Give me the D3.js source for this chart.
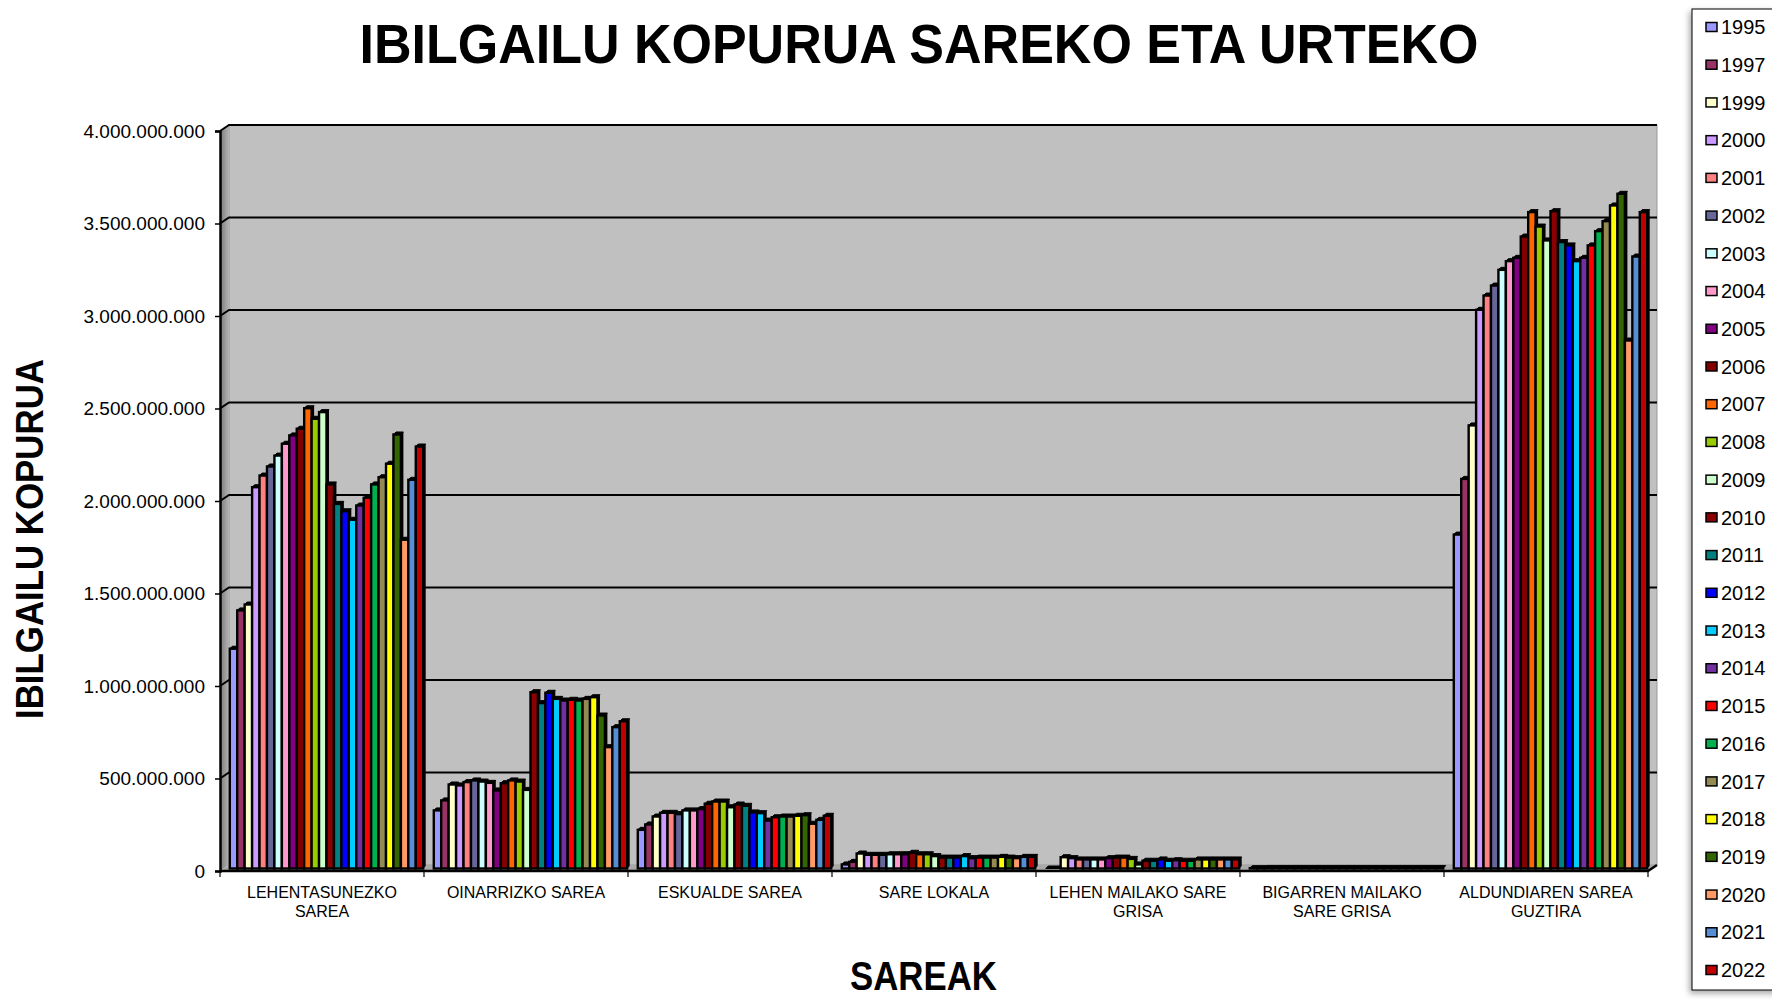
<!DOCTYPE html>
<html>
<head>
<meta charset="utf-8">
<script src="https://cdn.jsdelivr.net/npm/d3@7"></script>
<style>
  body { margin: 0; background: #ffffff; }
  svg { display: block; font-family: "Liberation Sans", Arial, sans-serif; }
</style>
</head>
<body>
<svg id="chart" width="1772" height="1001"></svg>
<script>
// Road network categories (x axis)
const categories = [
  "LEHENTASUNEZKO SAREA",
  "OINARRIZKO SAREA",
  "ESKUALDE SAREA",
  "SARE LOKALA",
  "LEHEN MAILAKO SARE GRISA",
  "BIGARREN MAILAKO SARE GRISA",
  "ALDUNDIAREN SAREA GUZTIRA"
];

// Series: one per year
const years = ["1995","1997","1999","2000","2001","2002","2003","2004","2005","2006",
  "2007","2008","2009","2010","2011","2012","2013","2014","2015","2016",
  "2017","2018","2019","2020","2021","2022"];

const yearColors = ["#9999FF","#993366","#FFFFCC","#CC99FF","#FF8080","#666699","#CCFFFF",
  "#FF99CC","#800080","#800000","#FF6600","#99CC00","#CCFFCC","#8B0000","#008080",
  "#0000FF","#00CCFF","#7030A0","#FF0000","#00B050","#948A54","#FFFF00","#336600",
  "#FF9966","#558ED5","#C00000"];

// Vehicle counts per network, in millions, ordered by year
const lehentasunezkoSarea = [1188,1395,1427,2061,2124,2173,2232,2296,2341,2377,2488,2431,2467,
  2076,1971,1931,1885,1962,2004,2076,2115,2188,2346,1777,2101,2281];
const oinarrizkoSarea = [314,368,454,449,467,476,470,463,422,461,476,470,425,
  953,894,950,917,908,912,908,917,926,827,656,764,796];
const eskualdeSarea = [209,238,281,301,301,294,314,314,321,350,362,362,331,
  346,339,303,299,259,277,281,281,285,288,242,263,285];
const sareLokala = [22,36,81,74,74,74,77,77,77,85,77,77,67,
  59,59,59,67,56,59,59,59,63,59,56,63,63];
const lehenMailakoGrisa = [0,0,61,56,49,49,49,49,56,59,59,52,22,
  42,42,49,42,45,42,42,49,49,49,49,49,49];
const bigarrenMailakoGrisa = [2,2,3,3,3,3,3,3,3,3,3,3,3,
  3,3,3,3,3,3,3,3,3,3,3,3,3];
const aldundiarenGuztira = [1805,2106,2395,3020,3097,3151,3236,3283,3301,3416,3548,3470,3395,
  3553,3386,3368,3283,3301,3368,3445,3499,3584,3647,2854,3308,3548];

const yTicks = [0,500,1000,1500,2000,2500,3000,3500,4000];

const seriesByCategory = [lehentasunezkoSarea, oinarrizkoSarea, eskualdeSarea, sareLokala,
  lehenMailakoGrisa, bigarrenMailakoGrisa, aldundiarenGuztira];

const rows = [];
categories.forEach((c, ci) => {
  years.forEach((y, yi) => rows.push({ cat: c, year: y, value: seriesByCategory[ci][yi], color: yearColors[yi] }));
});

const svg = d3.select("#chart");

// geometry of the 3D box
const frontLeft = 220, frontRight = 1648, depthX = 9, depthY = -6;
const yFront = d3.scaleLinear().domain([0, 4000]).range([871, 131]);
const yBack = d3.scaleLinear().domain([0, 4000]).range([871 + depthY, 131 + depthY]);
const yBar = d3.scaleLinear().domain([0, 4000]).range([868.5, 128.5]);

const x0 = d3.scaleBand().domain(categories).range([frontLeft, frontRight]).paddingInner(0).paddingOuter(0);
const x1 = d3.scaleBand().domain(years).range([0, x0.bandwidth()]).paddingInner(0).paddingOuter(0.71);

const defs = svg.append("defs");
const wallGrad = defs.append("linearGradient").attr("id", "wallGrad").attr("x1", 0).attr("x2", 1).attr("y1", 0).attr("y2", 0);
wallGrad.append("stop").attr("offset", "0%").attr("stop-color", "#7a7a7a");
wallGrad.append("stop").attr("offset", "100%").attr("stop-color", "#b4b4b4");
const shadow = defs.append("filter").attr("id", "legendShadow").attr("x", "-20%").attr("y", "-5%").attr("width", "140%").attr("height", "110%");
shadow.append("feDropShadow").attr("dx", -2).attr("dy", 3).attr("stdDeviation", 3)
  .attr("flood-color", "#000").attr("flood-opacity", 0.35);

// back wall
svg.append("rect")
  .attr("x", frontLeft + depthX).attr("y", yBack(4000))
  .attr("width", frontRight - frontLeft).attr("height", yBack(0) - yBack(4000))
  .attr("fill", "#c0c0c0").attr("stroke", "#9a9a9a").attr("stroke-width", 1);

// left wall
svg.append("polygon")
  .attr("points", [[frontLeft, yFront(0)], [frontLeft, yFront(4000)], [frontLeft + depthX, yBack(4000)], [frontLeft + depthX, yBack(0)]].join(" "))
  .attr("fill", "url(#wallGrad)");

// floor
svg.append("polygon")
  .attr("points", [[frontLeft, yFront(0)], [frontRight, yFront(0)], [frontRight + depthX, yBack(0)], [frontLeft + depthX, yBack(0)]].join(" "))
  .attr("fill", "#a9a9a9");

// gridlines across left wall and back wall
const grid = svg.append("g").attr("stroke", "#000").attr("stroke-width", 2).attr("fill", "none");
yTicks.filter(t => t > 0).forEach(t => {
  grid.append("polyline")
    .attr("points", [[frontLeft, yFront(t)], [frontLeft + depthX, yBack(t)], [frontRight + depthX, yBack(t)]].join(" "));
});

// 3D columns: front face, black top and side
const bars = svg.append("g");
const barDX = 2.5, barDY = 2.5;
rows.forEach(d => {
  const x = x0(d.cat) + x1(d.year) + depthX / 2;
  const w = x1.bandwidth();
  const top = yBar(d.value), base = yBar(0);
  const g = bars.append("g");
  g.append("polygon")
    .attr("points", [[x + w, top], [x + w + barDX, top - barDY], [x + w + barDX, base - barDY], [x + w, base]].join(" "))
    .attr("fill", "#000");
  g.append("polygon")
    .attr("points", [[x, top], [x + barDX, top - barDY], [x + w + barDX, top - barDY], [x + w, top]].join(" "))
    .attr("fill", "#000").attr("stroke", "#000").attr("stroke-width", 1);
  g.append("rect")
    .attr("x", x).attr("y", top).attr("width", w).attr("height", Math.max(0, base - top))
    .attr("fill", d.color).attr("stroke", "#000").attr("stroke-width", 2.4);
});

// floor front edge and right edge
svg.append("polyline")
  .attr("points", [[frontLeft, yFront(0)], [frontRight, yFront(0)], [frontRight + depthX, yBack(0)]].join(" "))
  .attr("fill", "none").attr("stroke", "#000").attr("stroke-width", 2.5);

// value axis
const fmt = d3.formatLocale({ decimal: ",", thousands: ".", grouping: [3], currency: ["", ""] }).format(",d");
const yAxis = d3.axisLeft(yFront).tickValues(yTicks).tickSize(5).tickPadding(10)
  .tickFormat(v => fmt(v * 1e6));
const yAxisG = svg.append("g").attr("transform", `translate(${frontLeft},0)`).call(yAxis);
yAxisG.select(".domain").attr("stroke", "#000").attr("stroke-width", 2.5);
yAxisG.selectAll(".tick line").attr("stroke", "#000").attr("stroke-width", 1.5);
yAxisG.selectAll(".tick text").attr("font-size", 19).attr("fill", "#000")
  .attr("font-family", "'Liberation Sans', Arial, sans-serif");

// category axis
const xAxis = d3.axisBottom(x0).tickSize(0).tickFormat("");
const xAxisG = svg.append("g").attr("transform", `translate(0,${yFront(0)})`).call(xAxis);
xAxisG.select(".domain").remove();
const boundaries = categories.map(c => x0(c)).concat([frontRight]);
svg.append("g").selectAll("line").data(boundaries).join("line")
  .attr("x1", d => d).attr("x2", d => d).attr("y1", yFront(0)).attr("y2", yFront(0) + 6)
  .attr("stroke", "#000").attr("stroke-width", 1.2);

// wrapped category labels
const labelG = svg.append("g").attr("font-size", 16).attr("fill", "#000").attr("text-anchor", "middle");
categories.forEach(c => {
  const t = labelG.append("text").attr("x", x0(c) + x0.bandwidth() / 2).attr("y", 898);
  const words = c.split(" ");
  let line = [], tspan = t.append("tspan").attr("x", x0(c) + x0.bandwidth() / 2).attr("dy", 0);
  words.forEach(wd => {
    line.push(wd);
    tspan.text(line.join(" "));
    if (tspan.node().getComputedTextLength() > 185 && line.length > 1) {
      line.pop();
      tspan.text(line.join(" "));
      line = [wd];
      tspan = t.append("tspan").attr("x", x0(c) + x0.bandwidth() / 2).attr("dy", 19).text(wd);
    }
  });
});

// titles
svg.append("text").attr("x", 919).attr("y", 63).attr("text-anchor", "middle")
  .attr("font-size", 56).attr("font-weight", "bold").attr("fill", "#000")
  .attr("textLength", 1119).attr("lengthAdjust", "spacingAndGlyphs")
  .text("IBILGAILU KOPURUA SAREKO ETA URTEKO");

svg.append("text").attr("transform", "translate(43,539) rotate(-90)").attr("text-anchor", "middle")
  .attr("font-size", 38).attr("font-weight", "bold").attr("fill", "#000")
  .attr("textLength", 360).attr("lengthAdjust", "spacingAndGlyphs")
  .text("IBILGAILU  KOPURUA");

svg.append("text").attr("x", 923.5).attr("y", 990).attr("text-anchor", "middle")
  .attr("font-size", 40).attr("font-weight", "bold").attr("fill", "#000")
  .attr("textLength", 147).attr("lengthAdjust", "spacingAndGlyphs")
  .text("SAREAK");

// legend
const legend = svg.append("g");
legend.append("rect").attr("x", 1692).attr("y", 9).attr("width", 110).attr("height", 981)
  .attr("fill", "#fff").attr("stroke", "#000").attr("stroke-width", 1)
  .attr("filter", "url(#legendShadow)");
const legendY = d3.scalePoint().domain(years).range([27, 970]);
const items = legend.selectAll("g.item").data(years).join("g").attr("class", "item")
  .attr("transform", d => `translate(0,${legendY(d)})`);
items.append("rect").attr("x", 1706).attr("y", -4.5).attr("width", 11).attr("height", 9)
  .attr("fill", (d, i) => yearColors[i]).attr("stroke", "#000").attr("stroke-width", 1.5);
items.append("text").attr("x", 1721).attr("dy", "0.36em").attr("font-size", 20).attr("fill", "#000")
  .text(d => d);
</script>
</body>
</html>
